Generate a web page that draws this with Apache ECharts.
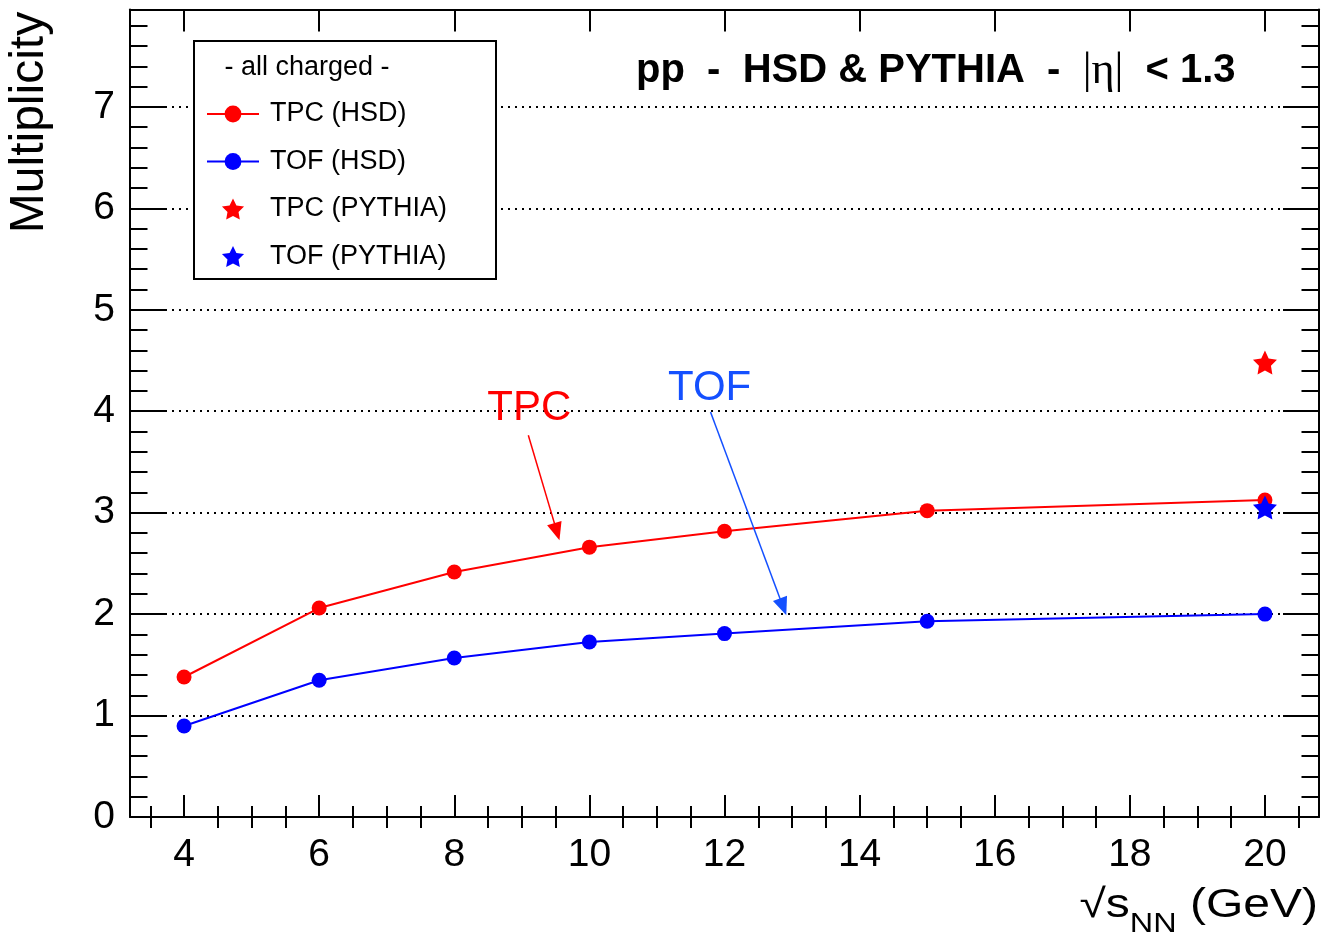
<!DOCTYPE html>
<html>
<head>
<meta charset="utf-8">
<script src="https://cdn.jsdelivr.net/npm/echarts@6/dist/echarts.min.js"></script>
<style>
html,body{margin:0;padding:0;background:#fff;}
#chart{width:1324px;height:937px;}
</style>
</head>
<body>
<div id="chart"></div>
<script>
// ---- data ----
const energies   = [4, 6, 8, 10, 12, 15, 20];
const tpcHSD     = [1.38, 2.06, 2.415, 2.66, 2.817, 3.02, 3.125];
const tofHSD     = [0.897, 1.348, 1.568, 1.725, 1.808, 1.93, 2.0];
const pythiaE    = [20];
const tpcPYTHIA  = [4.48];
const tofPYTHIA  = [3.05];
const xTickLabels = [4, 6, 8, 10, 12, 14, 16, 18, 20];
const yTickLabels = [0, 1, 2, 3, 4, 5, 6, 7];
const legendNames = ['TPC (HSD)', 'TOF (HSD)', 'TPC (PYTHIA)', 'TOF (PYTHIA)'];
const annTPC = {text: 'TPC', pos: [9.11, 4.03], from: [9.096, 3.763], to: [9.519, 2.813]};
const annTOF = {text: 'TOF', pos: [11.78, 4.22], from: [11.793, 3.993], to: [12.868, 2.071]};

// minor tick positions
const xMinor = [];
for (let v = 3.5; v <= 20.5; v += 0.5) if (v % 2 !== 0) xMinor.push(v);
const yMinor = [];
for (let i = 1; i < 40; i++) if (i % 5 !== 0) yMinor.push(i / 5);

const FONT = '"Liberation Sans", Arial, Helvetica, sans-serif';
const RED = '#ff0000', BLUE = '#0000ff', ABLUE = '#1450ff';
const STAR = 'path://M0,-1L0.294,-0.405L0.9511,-0.309L0.4755,0.1545L0.5878,0.809L0,0.5L-0.5878,0.809L-0.4755,0.1545L-0.9511,-0.309L-0.294,-0.405Z';

const XMIN = 3.2, XMAX = 20.8, YMIN = 0, YMAX = 7.96;
const lineBlack = {show: true, onZero: false, lineStyle: {color: '#000', width: 2}};

function xAx(pos, major, showLine) {
  return {
    type: 'value', position: pos, min: XMIN, max: XMAX, gridIndex: 0,
    axisLine: showLine ? lineBlack : {show: false},
    axisTick: {show: true, inside: true, length: major ? 22 : 11,
      customValues: major ? xTickLabels : xMinor, lineStyle: {color: '#000', width: 2}},
    axisLabel: (major && pos === 'bottom') ? {show: true, customValues: xTickLabels, margin: 19,
      fontSize: 39, fontFamily: FONT, color: '#000'} : {show: false},
    splitLine: {show: false}
  };
}
function yAx(pos, major, showLine, grid) {
  return {
    type: 'value', position: pos, min: YMIN, max: YMAX, interval: 1, gridIndex: 0,
    axisLine: showLine ? lineBlack : {show: false},
    axisTick: {show: true, inside: true, length: major ? 36 : 17.5,
      customValues: major ? yTickLabels : yMinor, lineStyle: {color: '#000', width: 2}},
    axisLabel: (major && pos === 'left') ? {show: true, customValues: yTickLabels, margin: 15,
      fontSize: 39, fontFamily: FONT, color: '#000'} : {show: false},
    splitLine: grid ? {show: true, lineStyle: {color: '#000', width: 2, type: [2, 5]}} : {show: false}
  };
}

const chart = echarts.init(document.getElementById('chart'), null, {renderer: 'canvas'});
const option = {
  animation: false,
  backgroundColor: '#fff',
  grid: {left: 130, right: 5, top: 9.5, bottom: 120, containLabel: false},
  xAxis: [xAx('bottom', true, true), xAx('bottom', false, false), xAx('top', true, true), xAx('top', false, false)],
  yAxis: [yAx('left', true, true, true), yAx('left', false, false, false), yAx('right', true, true, false), yAx('right', false, false, false)],
  legend: {
    left: 194, top: 41, orient: 'vertical', padding: [59, 0, 0, 12],
    itemWidth: 52, itemHeight: 21, itemGap: 19.5, z: 4, selectedMode: false,
    textStyle: {fontSize: 27, fontFamily: FONT, color: '#000', lineHeight: 28, padding: [0, 0, 0, 6]},
    data: legendNames
  },
  graphic: [
    {type: 'rect', z: 3, shape: {x: 194, y: 41, width: 302, height: 238},
      style: {fill: '#fff', stroke: '#000', lineWidth: 2}},
    {type: 'text', z: 5, x: 307, y: 68,
      style: {text: '- all charged -', fontSize: 27, fontFamily: FONT, fill: '#000', align: 'center', verticalAlign: 'middle'}},
    {type: 'text', z: 5, x: 636, y: 71,
      style: {text: '{b|pp  -  HSD & PYTHIA  -  }{e|\u007C\u03B7\u007C}{b|  < 1.3}', verticalAlign: 'middle', align: 'left',
        rich: {b: {fontSize: 40, fontWeight: 'bold', fontFamily: FONT, fill: '#000'},
               e: {fontSize: 44, fontFamily: '"Liberation Serif", serif', fill: '#000'}}}},
    {type: 'text', z: 5, x: 30, y: 122.5, rotation: Math.PI / 2,
      style: {text: 'Multiplicity', fontSize: 48, fontFamily: FONT, fill: '#000', align: 'center', verticalAlign: 'middle'}},
    {type: 'text', z: 5, x: 1318, y: 886, scaleX: 1.2, originX: 0, originY: 0,
      style: {text: '{a|\u221As}{b|NN}{a| (GeV)}', align: 'right', verticalAlign: 'top',
        rich: {a: {fontSize: 40, lineHeight: 40, verticalAlign: 'top', fontFamily: FONT, fill: '#000'},
               b: {fontSize: 27, lineHeight: 52, verticalAlign: 'bottom', fontFamily: FONT, fill: '#000'}}}}
  ],
  series: [
    {name: legendNames[0], type: 'line', data: energies.map((e, i) => [e, tpcHSD[i]]),
      symbol: 'circle', symbolSize: 15, color: RED, lineStyle: {color: RED, width: 2}, itemStyle: {color: RED, opacity: 1}, z: 3},
    {name: legendNames[1], type: 'line', data: energies.map((e, i) => [e, tofHSD[i]]),
      symbol: 'circle', symbolSize: 15, color: BLUE, lineStyle: {color: BLUE, width: 2}, itemStyle: {color: BLUE, opacity: 1}, z: 3},
    {name: legendNames[2], type: 'scatter', data: pythiaE.map((e, i) => [e, tpcPYTHIA[i]]),
      symbol: STAR, symbolSize: 24, color: RED, itemStyle: {color: RED, opacity: 1}, z: 4},
    {name: legendNames[3], type: 'scatter', data: pythiaE.map((e, i) => [e, tofPYTHIA[i]]),
      symbol: STAR, symbolSize: 24, color: BLUE, itemStyle: {color: BLUE, opacity: 1}, z: 4},
    {name: 'annTPC', type: 'scatter', data: [{name: annTPC.text, value: annTPC.pos}], symbolSize: 1,
      itemStyle: {color: 'rgba(0,0,0,0)', opacity: 1}, z: 5, silent: true,
      label: {show: true, position: 'inside', formatter: '{b}', fontSize: 42, fontFamily: FONT, color: RED, opacity: 1},
      markLine: {silent: true, symbol: ['none', 'triangle'], symbolSize: [15, 18], label: {show: false},
        lineStyle: {color: RED, width: 1.5, type: 'solid', opacity: 1}, itemStyle: {color: RED},
        data: [[{coord: annTPC.from}, {coord: annTPC.to}]]}},
    {name: 'annTOF', type: 'scatter', data: [{name: annTOF.text, value: annTOF.pos}], symbolSize: 1,
      itemStyle: {color: 'rgba(0,0,0,0)', opacity: 1}, z: 5, silent: true,
      label: {show: true, position: 'inside', formatter: '{b}', fontSize: 42, fontFamily: FONT, color: ABLUE, opacity: 1},
      markLine: {silent: true, symbol: ['none', 'triangle'], symbolSize: [15, 18], label: {show: false},
        lineStyle: {color: ABLUE, width: 1.5, type: 'solid', opacity: 1}, itemStyle: {color: ABLUE},
        data: [[{coord: annTOF.from}, {coord: annTOF.to}]]}}
  ]
};
chart.setOption(option);
</script>
</body>
</html>
